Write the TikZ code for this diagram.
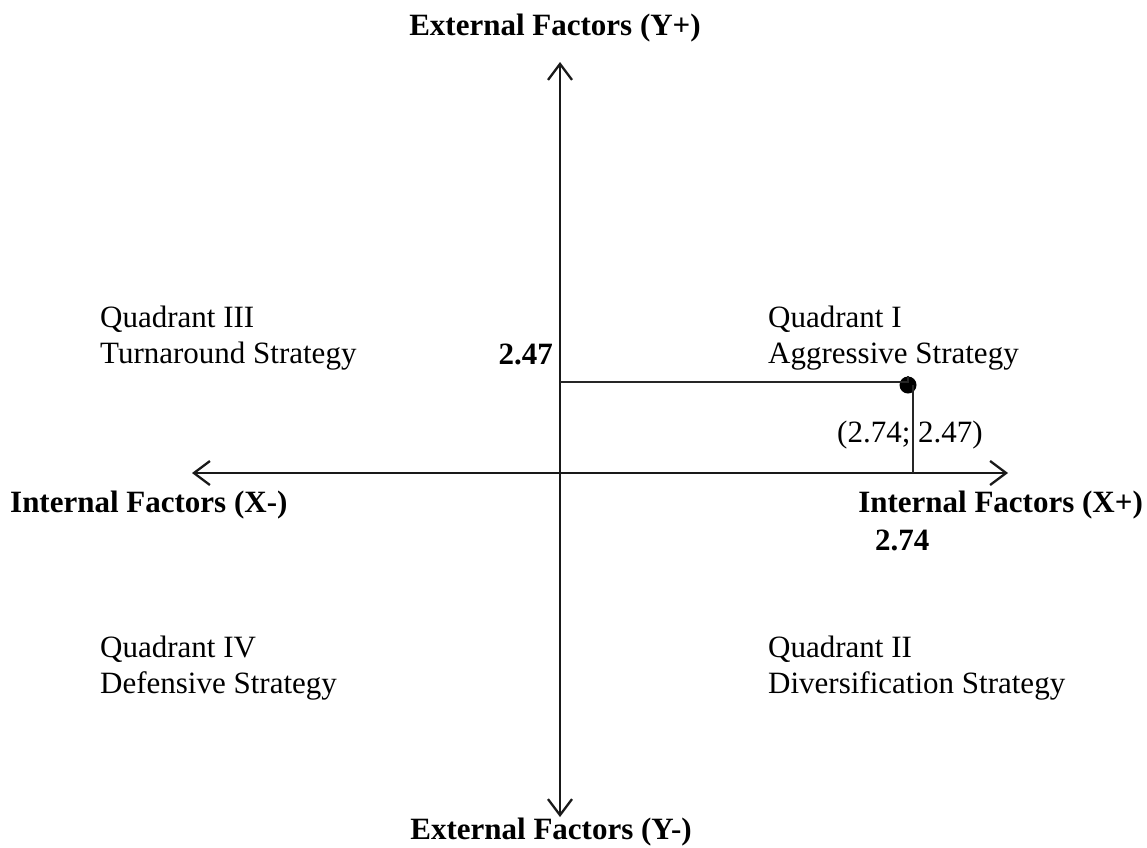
\documentclass[tikz,border=0pt]{standalone}
\usepackage{fontspec}
\setmainfont{Liberation Serif}
\usetikzlibrary{arrows.meta}
\begin{document}
\begin{tikzpicture}[x=1pt,y=-1pt,
  axis/.style={line width=2.3pt, draw=black!90, {Straight Barb[length=16pt,width=24pt,line width=2.3pt]}-{Straight Barb[length=16pt,width=24pt,line width=2.3pt]}},
  guide/.style={line width=1.8pt, draw=black!85},
  lbl/.style={inner sep=0pt, font=\fontsize{31}{36}\selectfont},
  blbl/.style={inner sep=0pt, font=\fontsize{31}{36}\selectfont\bfseries}]
\useasboundingbox (0,0) rectangle (1147,847);
% axes
\coordinate (ytop) at (560,62);
\coordinate (ybot) at (560,817);
\coordinate (xleft) at (192,473);
\coordinate (xright) at (1008,473);
\draw[axis] (ybot) -- (ytop);
\draw[axis] (xleft) -- (xright);
% point
\node[circle, fill=black, inner sep=0pt, minimum size=17pt] (P) at (908,385) {};
\coordinate (yl) at (560,382);
\coordinate (ptx) at (913,385);
\coordinate (xl) at (913,473);
\draw[guide] (yl) -- (yl -| P.center) -- (P);
\draw[guide] (ptx) -- (xl);
% axis labels
\node[blbl, anchor=base] (yplus) at (555,35) {External Factors (Y+)};
\node[blbl, anchor=base] (yminus) at (551,839) {External Factors (Y-)};
\node[blbl, anchor=base west] (xminus) at (10,512) {Internal Factors (X-)};
\node[blbl, anchor=base east] (xplus) at (1143,512) {Internal Factors (X+)};
\node[blbl, anchor=base west] (v274) at (875,550) {2.74};
\node[blbl, anchor=base east] (v247) at (553,364) {2.47};
\node[lbl, anchor=base west] (coord) at (837,442) {(2.74; 2.47)};
% quadrants
\node[lbl, anchor=base west] (q3a) at (100,327) {Quadrant III};
\node[lbl, anchor=base west] (q3b) at (100,363) {Turnaround Strategy};
\node[lbl, anchor=base west] (q1a) at (768,327) {Quadrant I};
\node[lbl, anchor=base west] (q1b) at (768,363) {Aggressive Strategy};
\node[lbl, anchor=base west] (q4a) at (100,657) {Quadrant IV};
\node[lbl, anchor=base west] (q4b) at (100,693) {Defensive Strategy};
\node[lbl, anchor=base west] (q2a) at (768,657) {Quadrant II};
\node[lbl, anchor=base west] (q2b) at (768,693) {Diversification Strategy};
\end{tikzpicture}
\end{document}
